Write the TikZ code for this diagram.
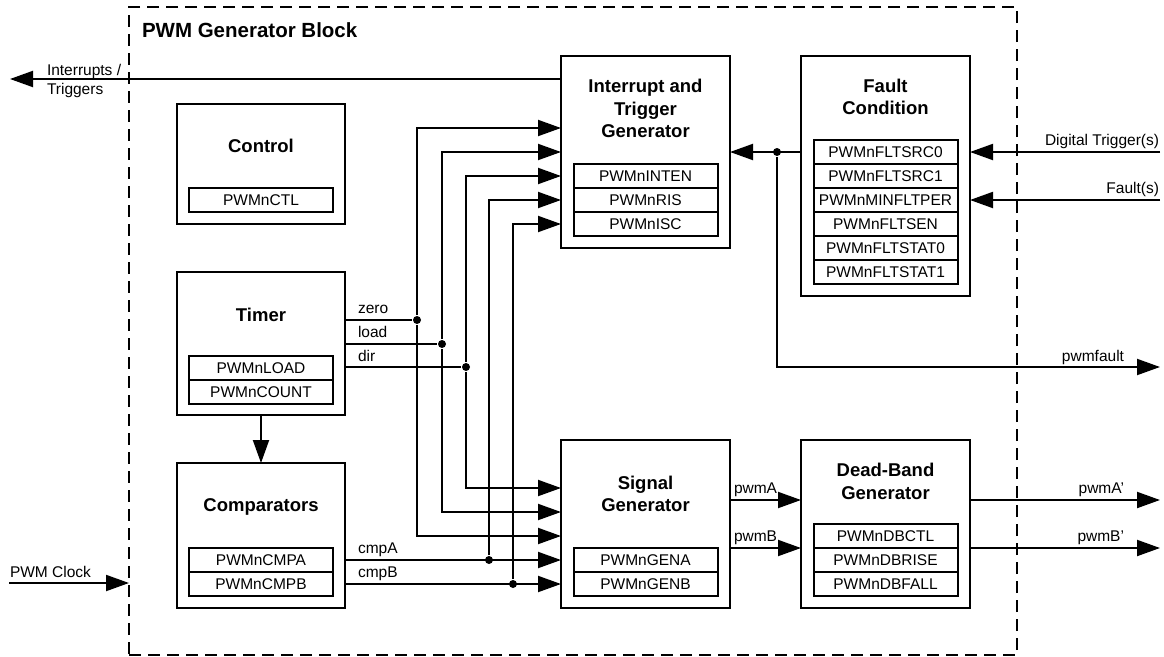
\documentclass[tikz,border=0pt]{standalone}
\usepackage{fontspec}
\setmainfont{Liberation Sans}
\usetikzlibrary{arrows.meta, positioning}

\begin{document}
\begin{tikzpicture}[x=1pt, y=-1pt, line width=2pt,
  blk/.style={draw, anchor=north west, inner sep=0pt, outer sep=0pt},
  ttl/.style={align=center, inner sep=0pt, font=\fontsize{18.5}{22.5}\selectfont\bfseries},
  reg/.style={draw, minimum width=144pt, minimum height=24pt, inner sep=0pt,
              outer sep=0pt, font=\fontsize{15.5}{18}\selectfont},
  lbl/.style={inner sep=0pt, font=\fontsize{15.5}{19}\selectfont},
  fl/.style={-{Triangle[length=23pt, width=16pt]}},
  dot/.style={circle, fill, inner sep=0pt, minimum size=8pt}
]
\useasboundingbox (0,0) rectangle (1164,656);

\node[blk, dash pattern=on 12pt off 7pt, minimum width=888pt, minimum height=648pt] (gen) at (129,7) {};
\node[anchor=base west, inner sep=0pt, font=\fontsize{20.5}{24}\selectfont\bfseries] (gen-t) at (141,37.3) {PWM Generator Block};

\node[blk, minimum width=168pt, minimum height=120pt] (ctl) at (177,104) {};
\node[ttl] (ctl-t) at (261,146) {Control};
\node[reg, anchor=north] (ctl-r1) at (261,188) {PWMnCTL};

\node[blk, minimum width=168pt, minimum height=143pt] (tmr) at (177,272) {};
\node[ttl] (tmr-t) at (261,315) {Timer};
\node[reg, anchor=north] (tmr-r1) at (261,356) {PWMnLOAD};
\node[reg, below=0pt of tmr-r1] (tmr-r2) {PWMnCOUNT};

\node[blk, minimum width=168pt, minimum height=145pt] (cmp) at (177,463) {};
\node[ttl] (cmp-t) at (261,507.3) {Comparators};
\node[reg, anchor=north] (cmp-r1) at (261,548) {PWMnCMPA};
\node[reg, below=0pt of cmp-r1] (cmp-r2) {PWMnCMPB};

\node[blk, minimum width=169pt, minimum height=192pt] (itg) at (561,56) {};
\node[ttl] (itg-t) at (645.5,108.8) {Interrupt and\\Trigger\\Generator};
\node[reg, anchor=north] (itg-r1) at (645.5,164) {PWMnINTEN};
\node[reg, below=0pt of itg-r1] (itg-r2) {PWMnRIS};
\node[reg, below=0pt of itg-r2] (itg-r3) {PWMnISC};

\node[blk, minimum width=169pt, minimum height=240pt] (flt) at (801,56) {};
\node[ttl] (flt-t) at (885.5,96.8) {Fault\\Condition};
\node[reg, anchor=north] (flt-r1) at (885.5,140) {PWMnFLTSRC0};
\node[reg, below=0pt of flt-r1] (flt-r2) {PWMnFLTSRC1};
\node[reg, below=0pt of flt-r2] (flt-r3) {PWMnMINFLTPER};
\node[reg, below=0pt of flt-r3] (flt-r4) {PWMnFLTSEN};
\node[reg, below=0pt of flt-r4] (flt-r5) {PWMnFLTSTAT0};
\node[reg, below=0pt of flt-r5] (flt-r6) {PWMnFLTSTAT1};

\node[blk, minimum width=169pt, minimum height=168pt] (sg) at (561,440) {};
\node[ttl] (sg-t) at (645.5,493.8) {Signal\\Generator};
\node[reg, anchor=north] (sg-r1) at (645.5,548) {PWMnGENA};
\node[reg, below=0pt of sg-r1] (sg-r2) {PWMnGENB};

\node[blk, minimum width=169pt, minimum height=168pt] (db) at (801,440) {};
\node[ttl] (db-t) at (885.5,481.5) {Dead-Band\\Generator};
\node[reg, anchor=north] (db-r1) at (885.5,524) {PWMnDBCTL};
\node[reg, below=0pt of db-r1] (db-r2) {PWMnDBRISE};
\node[reg, below=0pt of db-r2] (db-r3) {PWMnDBFALL};

\foreach \i/\y in {1/128, 2/152, 3/176, 4/200, 5/224}
  \coordinate (itg-in\i) at (561,\y);
\foreach \i/\y in {1/488, 2/512, 3/536, 4/560, 5/584}
  \coordinate (sg-in\i) at (561,\y);

\node[dot] (jz) at (417,320) {};
\node[dot] (jl) at (442,344) {};
\node[dot] (jd) at (466,367) {};
\node[dot] (ja) at (489,560) {};
\node[dot] (jb) at (513,584) {};
\node[dot] (jf) at (777,152) {};

\coordinate (irq) at (10,79);
\coordinate (clk) at (9,583);
\coordinate (dtrg) at (1160,152);
\coordinate (fin) at (1160,200);
\coordinate (pf) at (1160,367);
\coordinate (pa) at (801,500);
\coordinate (pb) at (801,548);
\coordinate (pa2) at (1160,500);
\coordinate (pb2) at (1160,548);

\draw[fl] (itg.west |- irq) -- (irq);
\draw[fl] (clk) -- (clk -| gen.west);
\draw[fl] (tmr) -- (cmp);

\draw (tmr.east |- jz) -- (jz);
\draw (tmr.east |- jl) -- (jl);
\draw (tmr.east |- jd) -- (jd);
\draw[fl] (jz) |- (itg-in1);
\draw[fl] (jz) |- (sg-in3);
\draw[fl] (jl) |- (itg-in2);
\draw[fl] (jl) |- (sg-in2);
\draw[fl] (jd) |- (itg-in3);
\draw[fl] (jd) |- (sg-in1);
\draw[fl] (cmp.east |- ja) -- (sg-in4);
\draw[fl] (cmp.east |- jb) -- (sg-in5);
\draw[fl] (ja) |- (itg-in4);
\draw[fl] (jb) |- (itg-in5);

\draw[fl] (flt.west |- jf) -- (itg.east |- jf);
\draw[fl] (jf) |- (pf);
\draw[fl] (dtrg) -- (dtrg -| flt.east);
\draw[fl] (fin) -- (fin -| flt.east);
\draw[fl] (sg.east |- pa) -- (pa);
\draw[fl] (sg.east |- pb) -- (pb);
\draw[fl] (db.east |- pa2) -- (pa2);
\draw[fl] (db.east |- pb2) -- (pb2);

\node[lbl, anchor=north west, align=left] (irq-l) at (46,63.7) {Interrupts /\\Triggers};
\node[lbl, anchor=base west] (clk-l) at (9,577) {PWM Clock};
\node[lbl, anchor=base west] (jz-l) at (357,313) {zero};
\node[lbl, anchor=base west] (jl-l) at (357,337) {load};
\node[lbl, anchor=base west] (jd-l) at (357,361) {dir};
\node[lbl, anchor=base west] (ja-l) at (357,553) {cmpA};
\node[lbl, anchor=base west] (jb-l) at (357,577) {cmpB};
\node[lbl, anchor=base west] (pa-l) at (733,493) {pwmA};
\node[lbl, anchor=base west] (pb-l) at (733,541) {pwmB};
\node[lbl, anchor=base east] (pa2-l) at (1125,493) {pwmA'};
\node[lbl, anchor=base east] (pb2-l) at (1125,541) {pwmB'};
\node[lbl, anchor=base east] (pf-l) at (1125,361) {pwmfault};
\node[lbl, anchor=base east] (dtrg-l) at (1160,145) {Digital Trigger(s)};
\node[lbl, anchor=base east] (fin-l) at (1160,193) {Fault(s)};
\end{tikzpicture}
\end{document}
